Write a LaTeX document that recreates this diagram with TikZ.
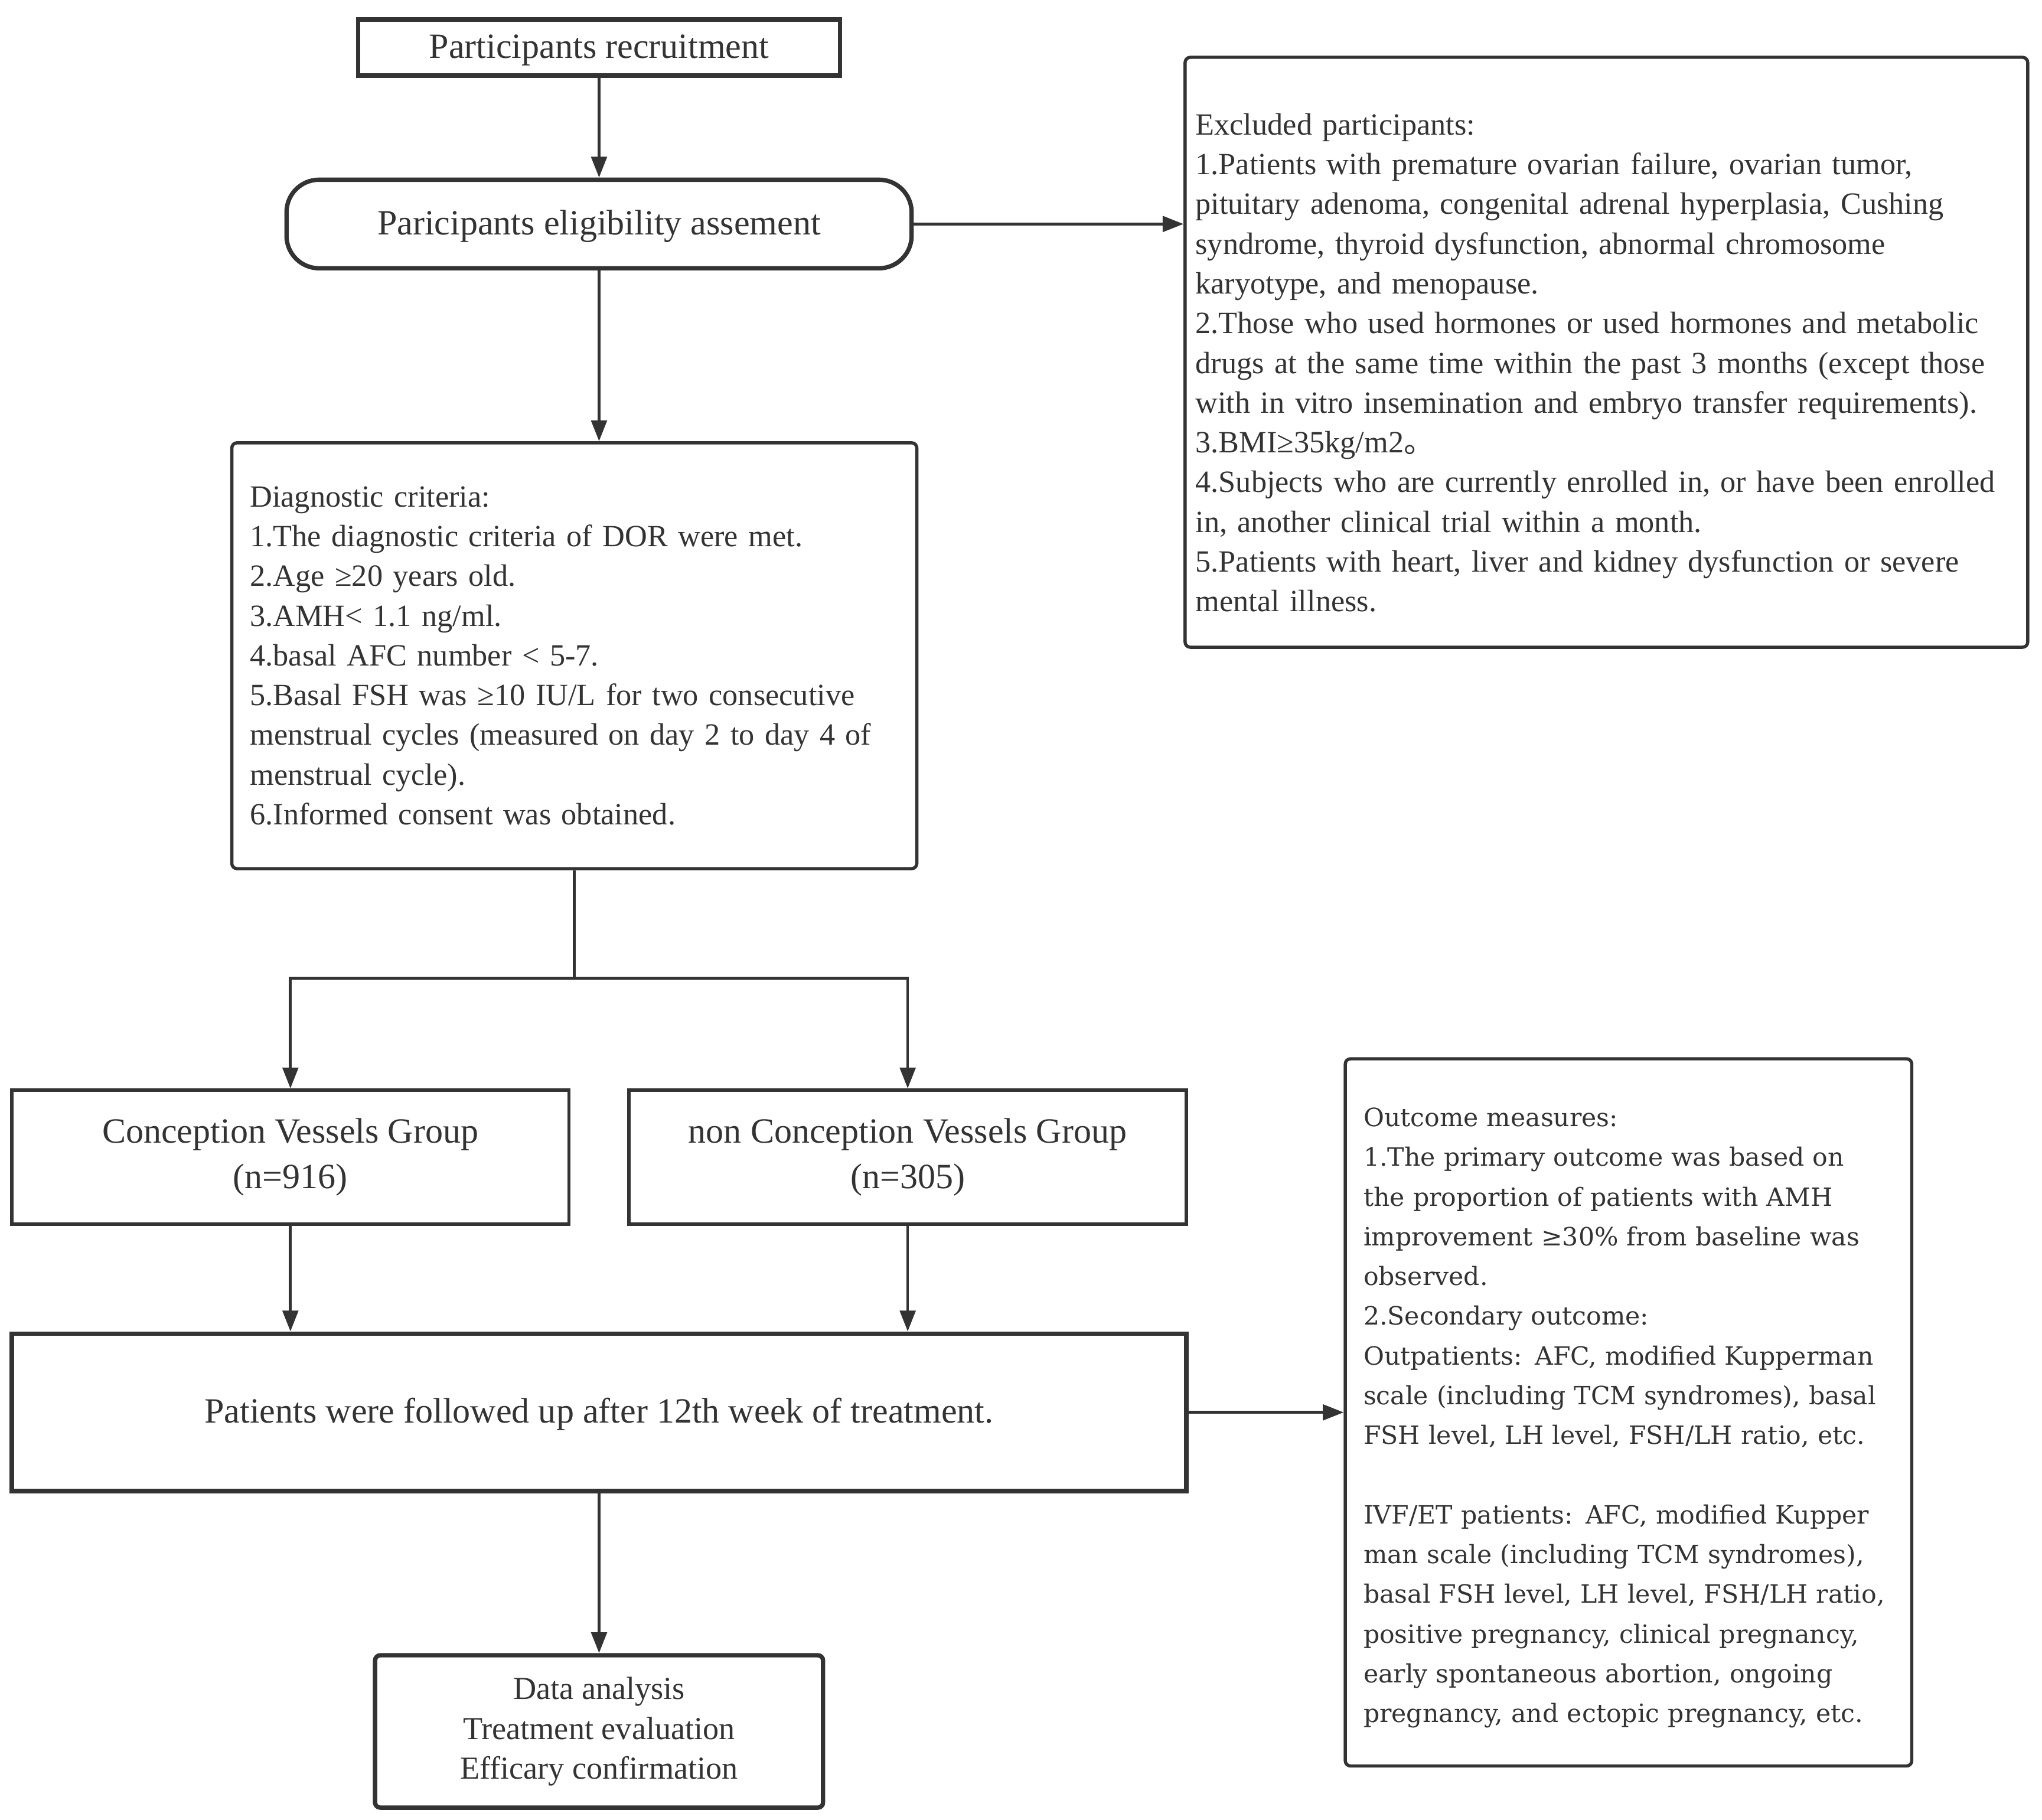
\documentclass[tikz,border=0pt]{standalone}
\usepackage{fontspec}
\setmainfont{Liberation Serif}
\newfontfamily\outfont{DejaVu Serif}
\newfontfamily\cjk{Noto Sans CJK SC}
\usetikzlibrary{arrows.meta}
\definecolor{ink}{HTML}{333333}

\begin{document}
\begin{tikzpicture}[
    font=\fontsize{13.5}{17.36}\selectfont,
    box/.style={draw=ink, line width=1.4pt, text=ink, inner sep=0pt, align=center},
    heavybox/.style={box, line width=1.9pt},
    listbox/.style={box, rounded corners=0.08cm, align=left, inner xsep=0.28cm},
    bigtext/.style={font=\fontsize{15.5}{19.9}\selectfont},
    oneline/.style={bigtext, text height=12.5pt},
    flow/.style={draw=ink, line width=1.2pt, -{Triangle[length=3.2mm, width=2.4mm]}},
]
    % Page frame
    \useasboundingbox (0,0) rectangle (31.36,-27.95);

    % Recruitment and screening
    \node[heavybox, oneline, minimum width=7.4cm, minimum height=0.86cm] (recruit) at (9.2,-0.73)
        {Participants recruitment};
    \node[heavybox, oneline, rounded corners=0.5cm, minimum width=9.6cm, minimum height=1.36cm] (elig) at (9.2,-3.44)
        {Paricipants eligibility assement};

    % Exclusion list
    \node[listbox, inner xsep=0.16cm, text width=12.62cm, minimum height=9.06cm] (excl) at (24.67,-5.41) {
        \rule{0pt}{18.5pt}Excluded participants:\\
        1.Patients with premature ovarian failure, ovarian tumor,\\
        pituitary adenoma, congenital adrenal hyperplasia, Cushing\\
        syndrome, thyroid dysfunction, abnormal chromosome\\
        karyotype, and menopause.\\
        2.Those who used hormones or used hormones and metabolic\\
        drugs at the same time within the past 3 months (except those\\
        with in vitro insemination and embryo transfer requirements).\\
        3.BMI≥35kg/m2{\cjk 。}\\
        4.Subjects who are currently enrolled in, or have been enrolled\\
        in, another clinical trial within a month.\\
        5.Patients with heart, liver and kidney dysfunction or severe\\
        mental illness.
    };

    % Inclusion list
    \node[listbox, text width=9.96cm, minimum height=6.54cm] (diag) at (8.82,-10.07) {
        Diagnostic criteria:\\
        1.The diagnostic criteria of DOR were met.\\
        2.Age ≥20 years old.\\
        3.AMH< 1.1 ng/ml.\\
        4.basal AFC number < 5-7.\\
        5.Basal FSH was ≥10 IU/L for two consecutive\\
        menstrual cycles (measured on day 2 to day 4 of\\
        menstrual cycle).\\
        6.Informed consent was obtained.
    };
    \coordinate (split) at (8.82,-15.02);

    % Groups
    \node[box, bigtext, minimum width=8.56cm, minimum height=2.06cm] (cvg) at (4.46,-17.77)
        {Conception Vessels Group\\(n=916)};
    \node[box, bigtext, minimum width=8.56cm, minimum height=2.06cm] (ncvg) at (13.94,-17.77)
        {non Conception Vessels Group\\(n=305)};

    % Follow-up and outcomes
    \node[heavybox, oneline, minimum width=18.04cm, minimum height=2.42cm] (follow) at (9.2,-21.69)
        {Patients were followed up after 12th week of treatment.};
    \node[listbox, font=\outfont\fontsize{11}{17.36}\selectfont, text width=8.14cm, minimum height=10.86cm] (outcome) at (25.01,-21.69) {
        \hyphenpenalty=10000\relax\rule{0pt}{13pt}Outcome measures:\\
        1.The primary outcome was based on\\
        the proportion of patients with AMH\\
        improvement ≥30\% from baseline was\\
        observed.\\
        2.Secondary outcome:\\
        Outpatients: AFC, modified Kupperman\\
        scale (including TCM syndromes), basal\\
        FSH level, LH level, FSH/LH ratio, etc.\\[17.36pt]
        IVF/ET patients: AFC, modified Kupper\\
        man scale (including TCM syndromes),\\
        basal FSH level, LH level, FSH/LH ratio,\\
        positive pregnancy, clinical pregnancy,\\
        early spontaneous abortion, ongoing\\
        pregnancy, and ectopic pregnancy, etc.
    };

    % Analysis
    \node[heavybox, font=\fontsize{14}{17.36}\selectfont, rounded corners=0.08cm, minimum width=6.88cm, minimum height=2.34cm] (data) at (9.2,-26.59)
        {Data analysis\\Treatment evaluation\\Efficary confirmation};

    % Connectors
    \draw[flow] (recruit) -- (elig);
    \draw[flow] (elig.east) -- (elig.east -| excl.west);
    \draw[flow] (elig.south) -- (elig.south |- diag.north);
    \draw[draw=ink, line width=1.2pt] (diag.south) -- (split);
    \draw[flow] (split) -| (cvg.north);
    \draw[flow] (split) -| (ncvg.north);
    \draw[flow] (cvg.south) -- (cvg.south |- follow.north);
    \draw[flow] (ncvg.south) -- (ncvg.south |- follow.north);
    \draw[flow] (follow.east) -- (follow.east -| outcome.west);
    \draw[flow] (follow) -- (data);

\end{tikzpicture}
\end{document}
